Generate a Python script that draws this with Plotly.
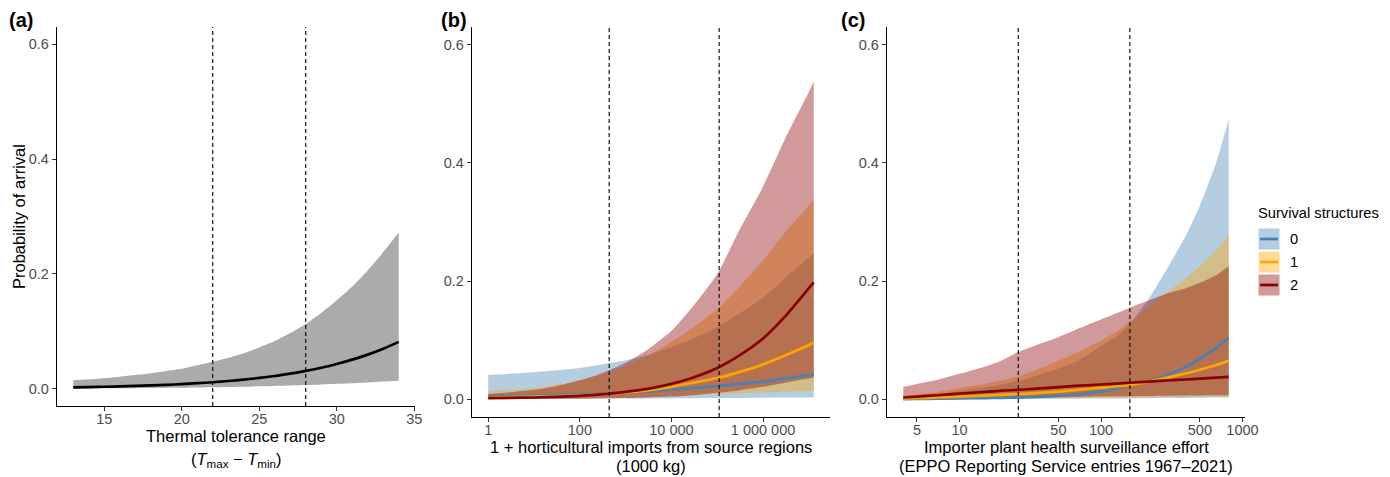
import plotly.graph_objects as go

W, H = 1390, 477
FONT = "Liberation Sans, Arial, sans-serif"

# ---------------- Panel (a): thermal tolerance range ----------------
thermal_x = [13, 14, 15, 16, 17, 18, 19, 20, 21, 22, 23, 24, 25, 26, 27, 28, 29, 30, 31, 32, 33, 34]
thermal_fit = [0.0025, 0.0030, 0.0035, 0.0042, 0.0049, 0.0058, 0.0069, 0.0081, 0.0097, 0.0114, 0.0135,
               0.0160, 0.0189, 0.0223, 0.0263, 0.0311, 0.0366, 0.0431, 0.0507, 0.0595, 0.0698, 0.0817]
thermal_lo = [0.0005, 0.0006, 0.0007, 0.0009, 0.0011, 0.0013, 0.0016, 0.0019, 0.0023, 0.0027, 0.0032,
              0.0037, 0.0043, 0.0050, 0.0057, 0.0065, 0.0075, 0.0086, 0.0098, 0.0110, 0.0125, 0.0140]
thermal_hi = [0.015, 0.0165, 0.0185, 0.021, 0.024, 0.027, 0.031, 0.035, 0.041, 0.047, 0.054,
              0.062, 0.072, 0.083, 0.097, 0.113, 0.132, 0.154, 0.178, 0.206, 0.238, 0.272]
thermal_vlines = [22, 28]

# ---------------- Panel (b): horticultural imports ----------------
imports_x = [1, 3, 10, 30, 100, 300, 1000, 3000, 1e4, 3e4, 1e5, 3e5, 1e6, 3e6, 1e7, 1.28e7]
imp_fit_0 = [0.0055, 0.006, 0.0067, 0.0075, 0.0085, 0.0097, 0.011, 0.013, 0.0165, 0.019, 0.0225, 0.026, 0.030, 0.035, 0.041, 0.042]
imp_lo_0 = [0.0007, 0.00075, 0.0008, 0.0009, 0.001, 0.0011, 0.0012, 0.0013, 0.0015, 0.0017, 0.002, 0.0022, 0.0025, 0.0028, 0.003, 0.003]
imp_hi_0 = [0.041, 0.043, 0.046, 0.049, 0.053, 0.059, 0.066, 0.075, 0.088, 0.103, 0.122, 0.145, 0.172, 0.205, 0.240, 0.248]
imp_fit_1 = [0.003, 0.0036, 0.0044, 0.0054, 0.0066, 0.0085, 0.0115, 0.015, 0.021, 0.028, 0.036, 0.046, 0.059, 0.074, 0.092, 0.096]
imp_lo_1 = [0.0006, 0.0008, 0.001, 0.0013, 0.0017, 0.0022, 0.003, 0.004, 0.005, 0.0065, 0.0085, 0.010, 0.0115, 0.0128, 0.0138, 0.014]
imp_hi_1 = [0.014, 0.016, 0.019, 0.024, 0.032, 0.042, 0.056, 0.074, 0.097, 0.122, 0.152, 0.190, 0.235, 0.282, 0.328, 0.338]
imp_fit_2 = [0.0018, 0.0024, 0.0030, 0.0042, 0.0058, 0.0082, 0.0125, 0.0175, 0.026, 0.037, 0.053, 0.074, 0.103, 0.140, 0.188, 0.198]
imp_lo_2 = [0.0003, 0.0004, 0.0005, 0.0007, 0.001, 0.0014, 0.002, 0.003, 0.0045, 0.007, 0.011, 0.015, 0.021, 0.028, 0.035, 0.037]
imp_hi_2 = [0.009, 0.012, 0.016, 0.022, 0.032, 0.044, 0.062, 0.084, 0.116, 0.158, 0.212, 0.285, 0.360, 0.440, 0.520, 0.538]
imports_vlines = [437, 110000]
imports_ticks = [1, 100, 1e4, 1e6]
imports_ticktext = ["1", "100", "10 000", "1 000 000"]

# ---------------- Panel (c): surveillance effort ----------------
eppo_x = [4, 5, 7, 10, 15, 20, 26, 35, 50, 70, 100, 130, 160, 220, 300, 400, 500, 650, 800]
eppo_fit_0 = [0.0004, 0.0005, 0.0009, 0.0014, 0.0020, 0.0024, 0.0029, 0.004, 0.0058, 0.0085, 0.013, 0.0182, 0.024, 0.031, 0.042, 0.055, 0.069, 0.087, 0.104]
eppo_lo_0 = [0.00003, 0.00005, 0.0001, 0.00015, 0.0002, 0.0003, 0.0004, 0.0005, 0.0007, 0.0009, 0.0011, 0.0013, 0.0015, 0.0018, 0.002, 0.0023, 0.0025, 0.0028, 0.003]
eppo_hi_0 = [0.003, 0.004, 0.0075, 0.014, 0.020, 0.025, 0.031, 0.040, 0.052, 0.066, 0.090, 0.107, 0.127, 0.172, 0.225, 0.278, 0.328, 0.400, 0.474]
eppo_fit_1 = [0.0012, 0.0018, 0.003, 0.0045, 0.0062, 0.0076, 0.0088, 0.0105, 0.013, 0.0162, 0.0195, 0.022, 0.0245, 0.030, 0.037, 0.044, 0.050, 0.058, 0.065]
eppo_lo_1 = [0.0001, 0.00015, 0.0003, 0.0005, 0.0008, 0.001, 0.0012, 0.0015, 0.0019, 0.0023, 0.0027, 0.003, 0.0032, 0.0035, 0.0038, 0.004, 0.0042, 0.0044, 0.0045]
eppo_hi_1 = [0.006, 0.008, 0.012, 0.019, 0.026, 0.032, 0.039, 0.050, 0.065, 0.081, 0.099, 0.115, 0.131, 0.157, 0.183, 0.205, 0.225, 0.252, 0.279]
eppo_fit_2 = [0.003, 0.0045, 0.0068, 0.0095, 0.0125, 0.0145, 0.016, 0.018, 0.0205, 0.023, 0.025, 0.0265, 0.028, 0.030, 0.032, 0.0335, 0.035, 0.0365, 0.038]
eppo_lo_2 = [0.0003, 0.0005, 0.0008, 0.0012, 0.0017, 0.002, 0.0025, 0.003, 0.0035, 0.004, 0.0045, 0.005, 0.0053, 0.0057, 0.006, 0.0063, 0.0065, 0.0067, 0.0068]
eppo_hi_2 = [0.021, 0.026, 0.033, 0.043, 0.055, 0.066, 0.080, 0.092, 0.105, 0.120, 0.135, 0.146, 0.155, 0.168, 0.180, 0.188, 0.197, 0.210, 0.225]
eppo_vlines = [26, 160]
eppo_ticks = [5, 10, 50, 100, 500, 1000]
eppo_ticktext = ["5", "10", "50", "100", "500", "1000"]

y_ticks = [0.0, 0.2, 0.4, 0.6]
y_ticktext = ["0.0", "0.2", "0.4", "0.6"]
y_range = [-0.03, 0.63]

groups = ["0", "1", "2"]
line_colors = ["#4682B4", "#FFA500", "#8B0000"]
fill_colors = ["rgba(70,130,180,0.4)", "rgba(255,165,0,0.4)", "rgba(139,0,0,0.4)"]

fig = go.Figure()


def add_band(x, lo, hi, fillcolor, xa, ya):
    fig.add_trace(go.Scatter(x=x, y=lo, mode="lines", line=dict(width=0, shape="spline", smoothing=0.6),
                             showlegend=False, hoverinfo="skip", xaxis=xa, yaxis=ya))
    fig.add_trace(go.Scatter(x=x, y=hi, mode="lines", line=dict(width=0, shape="spline", smoothing=0.6),
                             fill="tonexty", fillcolor=fillcolor, showlegend=False, hoverinfo="skip",
                             xaxis=xa, yaxis=ya))


def add_line(x, y, color, xa, ya):
    fig.add_trace(go.Scatter(x=x, y=y, mode="lines", line=dict(color=color, width=2.7, shape="spline", smoothing=0.6),
                             showlegend=False, xaxis=xa, yaxis=ya))


def add_vlines(vals, xa, ya):
    for v in vals:
        fig.add_trace(go.Scatter(x=[v, v], y=y_range, mode="lines",
                                 line=dict(color="black", width=1.1, dash="4px,3px"),
                                 showlegend=False, hoverinfo="skip", xaxis=xa, yaxis=ya))


# Panel a
add_band(thermal_x, thermal_lo, thermal_hi, "#ABABAB", "x", "y")
add_line(thermal_x, thermal_fit, "black", "x", "y")
add_vlines(thermal_vlines, "x", "y")

# Panel b
for lo, hi, fc in zip([imp_lo_0, imp_lo_1, imp_lo_2], [imp_hi_0, imp_hi_1, imp_hi_2], fill_colors):
    add_band(imports_x, lo, hi, fc, "x2", "y2")
for fit, lc in zip([imp_fit_0, imp_fit_1, imp_fit_2], line_colors):
    add_line(imports_x, fit, lc, "x2", "y2")
add_vlines(imports_vlines, "x2", "y2")

# Panel c
for lo, hi, fc in zip([eppo_lo_0, eppo_lo_1, eppo_lo_2], [eppo_hi_0, eppo_hi_1, eppo_hi_2], fill_colors):
    add_band(eppo_x, lo, hi, fc, "x3", "y3")
for fit, lc in zip([eppo_fit_0, eppo_fit_1, eppo_fit_2], line_colors):
    add_line(eppo_x, fit, lc, "x3", "y3")
add_vlines(eppo_vlines, "x3", "y3")

axis_common = dict(showline=True, linecolor="black", linewidth=1.3, ticks="outside", ticklen=4,
                   tickwidth=1.1, tickcolor="#333333", tickfont=dict(family=FONT, size=14.5, color="#4D4D4D"),
                   showgrid=False, zeroline=False, automargin=False, fixedrange=True)
x_extra = dict(ticklabelstandoff=-5)


def px_x(p):
    return p / W


def px_y(p):
    return 1 - p / H


fig.update_layout(
    width=W, height=H,
    margin=dict(l=0, r=0, t=0, b=0),
    paper_bgcolor="white", plot_bgcolor="white",
    font=dict(family=FONT, color="black"),
    showlegend=False,
    xaxis=dict(domain=[px_x(57), px_x(415)], range=[11.95, 35.05], tickvals=[15, 20, 25, 30, 35],
               anchor="y", **axis_common, **x_extra),
    yaxis=dict(domain=[px_y(406), px_y(27)], range=y_range, tickvals=y_ticks, ticktext=y_ticktext,
               anchor="x", **axis_common),
    xaxis2=dict(domain=[px_x(472), px_x(830)], type="log", range=[-0.355, 7.462], tickvals=imports_ticks,
                ticktext=imports_ticktext, anchor="y2", **axis_common, **x_extra),
    yaxis2=dict(domain=[px_y(417), px_y(27)], range=y_range, tickvals=y_ticks, ticktext=y_ticktext,
                anchor="x2", **axis_common),
    xaxis3=dict(domain=[px_x(887), px_x(1245)], type="log", range=[0.487, 3.018], tickvals=eppo_ticks,
                ticktext=eppo_ticktext, anchor="y3", **axis_common, **x_extra),
    yaxis3=dict(domain=[px_y(417), px_y(27)], range=y_range, tickvals=y_ticks, ticktext=y_ticktext,
                anchor="x3", **axis_common),
)

ann = []


def text(t, x, y, size=16.5, xanchor="center", yanchor="middle", angle=0, color="black"):
    ann.append(dict(text=t, x=px_x(x), y=px_y(y), xref="paper", yref="paper", showarrow=False,
                    xanchor=xanchor, yanchor=yanchor, textangle=angle,
                    font=dict(family=FONT, size=size, color=color)))


# panel tags
text("<b>(a)</b>", 7, 20, size=20, xanchor="left")
text("<b>(b)</b>", 439, 20, size=20, xanchor="left")
text("<b>(c)</b>", 839, 20, size=20, xanchor="left")
# axis titles
text("Probability of arrival", 19, 217, angle=-90)
text("Thermal tolerance range", 236, 436)
text("(<i>T</i><sub>max</sub> − <i>T</i><sub>min</sub>)", 236, 460)
text("1 + horticultural imports from source regions", 651, 447)
text("(1000 kg)", 651, 466)
text("Importer plant health surveillance effort", 1066, 447)
text("(EPPO Reporting Service entries 1967–2021)", 1066, 466)

# legend
text("Survival structures", 1256, 213, size=14.7, xanchor="left")
shapes = []
row_centers = [239, 262, 285]
for g, lc, fc, yc in zip(groups, line_colors, fill_colors, row_centers):
    shapes.append(dict(type="rect", xref="paper", yref="paper",
                       x0=px_x(1258), x1=px_x(1280), y0=px_y(yc + 11), y1=px_y(yc - 11),
                       fillcolor=fc, line=dict(color="white", width=1)))
    shapes.append(dict(type="line", xref="paper", yref="paper",
                       x0=px_x(1260), x1=px_x(1278), y0=px_y(yc), y1=px_y(yc),
                       line=dict(color=lc, width=2.7)))
    text(g, 1288, yc, size=14.7, xanchor="left")

fig.update_layout(annotations=ann, shapes=shapes)

fig.write_html("out.html")
